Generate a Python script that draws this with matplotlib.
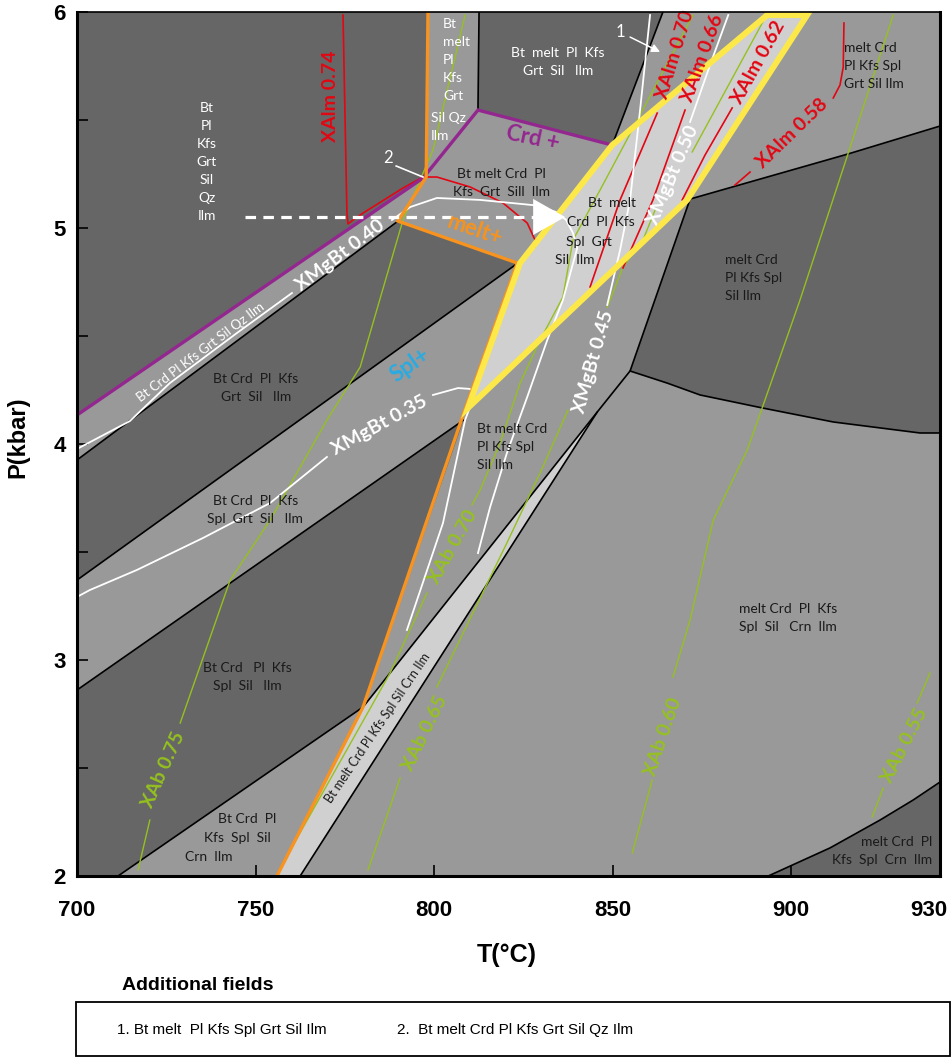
import numpy as np
import matplotlib.pyplot as plt
from matplotlib.patches import Polygon, Rectangle

# colours
DARK = '#666666'
MID = '#999999'
LIGHT = '#d0d0d0'
PURPLE = '#93278f'
ORANGE = '#f7931e'
YELLOW = '#fde84a'
RED = '#e30613'
GREEN = '#95c11f'
BLUE = '#29abe2'
TXT = '#1a1a1a'

LBLFONT = ['Lato', 'DejaVu Sans']
AXFONT = ['Liberation Sans', 'DejaVu Sans']

T_MIN, T_MAX = 700, 941.7
P_MIN, P_MAX = 2, 6
nan = np.nan

# ---- dark fields (T degC, P kbar)
f_top_T = [700, 798.3, 797.8, 796.9, 700]
f_top_P = [6.0, 6.0, 5.236, 5.231, 4.134]
f_btmelt_T = [812.6, 864.1, 849.9, 812.3]
f_btmelt_P = [6.0, 6.0, 5.384, 5.546]
f_grt_T = [700, 789.9, 823.5, 700]
f_grt_P = [3.926, 5.032, 4.838, 3.370]
f_spl_T = [700, 808.3, 780.1, 711.5, 700]
f_spl_P = [2.861, 4.111, 2.782, 2.0, 2.0]
f_meltspl_T = [871.7, 916.0, 941.7, 941.7, 936.1, 911.8, 891.9, 874.5, 865.3, 854.9]
f_meltspl_P = [5.134, 5.343, 5.472, 4.051, 4.051, 4.102, 4.167, 4.227, 4.282, 4.338]
f_crn_T = [893.6, 910.9, 924.9, 934.2, 941.7, 941.7]
f_crn_P = [2.0, 2.130, 2.259, 2.352, 2.435, 2.0]

# ---- light fields
f_peak_T = [893.3, 904.5, 870.9, 809.5, 824.1, 849.9]
f_peak_P = [5.986, 5.986, 5.130, 4.167, 4.838, 5.384]
f_crnband_T = [756.0, 780.1, 845.7, 762.5]
f_crnband_P = [2.0, 2.782, 4.148, 2.0]

# ---- black field boundaries
b1_T, b1_P = [812.6, 812.3], [6.0, 5.546]
b2_T, b2_P = [864.1, 849.9], [6.0, 5.384]
l1_T, l1_P = [700, 789.9], [3.926, 5.032]
l2_T, l2_P = [700, 823.5], [3.370, 4.838]
l3_T, l3_P = [700, 808.3], [2.861, 4.111]
l4_T, l4_P = [711.5, 780.1], [2.0, 2.782]
band_l_T, band_l_P = [756.0, 780.1, 845.7], [2.0, 2.782, 4.148]
band_r_T, band_r_P = [762.5, 845.7, 854.9], [2.0, 4.148, 4.338]

# ---- coloured reaction lines
purple_T = [700, 796.9, 812.3, 849.9]
purple_P = [4.134, 5.231, 5.546, 5.384]
orange_T = [798.3, 797.8, 789.9, 823.3, 808.6, 780.1, 756.0]
orange_P = [6.0, 5.236, 5.032, 4.838, 4.157, 2.782, 2.0]

# ---- XMgBt isopleths (white)
w40_T = [700, 714.8, 726.0, 744.8, 760.2, nan, 788.2, 793.3, 800.8, 812.9, 827.7, 834.2, 837.0,
         838.9, 840.1, 836.1, 831.7, 826.1, 820.4, 815.7, 812.3]
w40_P = [3.977, 4.106, 4.282, 4.514, 4.699, nan, 5.037, 5.097, 5.139, 5.130, 5.106, 5.074, 5.037,
         4.977, 4.907, 4.667, 4.481, 4.218, 3.958, 3.708, 3.495]
w35_T = [700, 703.6, 716.8, 735.3, 754.1, 770.0, nan, 799.7, 806.7, 810.1, 811.2, 808.7, 802.5, 792.4]
w35_P = [3.292, 3.324, 3.417, 3.565, 3.727, 3.940, nan, 4.227, 4.259, 4.255, 4.222, 4.111, 3.634, 3.139]
w45_T = [860.5, 857.7, 854.9, 852.1, 848.5]
w45_P = [5.986, 5.546, 5.130, 4.898, 4.644]
w50_T = [882.4, 877.3, 871.7]
w50_P = [5.986, 5.755, 5.491]

# ---- XAlm isopleths (red)
r74_T = [774.5, 775.6, 775.9, 777.3, 780.1, 791.3, 796.9, 800.8, 810.1, 819.3, 826.1, 828.3, 828.3]
r74_P = [5.986, 5.069, 5.019, 5.037, 5.069, 5.185, 5.236, 5.236, 5.190, 5.116, 5.023, 4.944, 4.912]
r70_T = [862.5, 852.1, 843.7]
r70_P = [5.532, 5.130, 4.727]
r66_T = [870.3, 861.3, 852.9]
r66_P = [5.546, 5.130, 4.815]
r62_T = [883.5, 875.9, 869.5]
r62_P = [5.556, 5.338, 5.130]
r58_T = [914.8, 914.6, 913.7, 911.8, nan, 888.5, 884.3]
r58_P = [5.949, 5.745, 5.662, 5.602, nan, 5.259, 5.199]

# ---- XAb isopleths (green)
g75_T = [808.7, 799.7, 791.3, 779.3, 770.0, 754.1, 742.9, 728.9, nan, 720.4, 717.1]
g75_P = [5.986, 5.361, 5.037, 4.356, 4.111, 3.648, 3.370, 2.708, nan, 2.259, 2.028]
g70_T = [872.5, 857.7, 846.5, 838.9, 836.1, 829.7, 824.1, 818.5, 812.9, 810.6, nan, 798.0, 787.7, 757.7]
g70_P = [5.986, 5.523, 5.176, 4.944, 4.681, 4.481, 4.282, 4.005, 3.787, 3.718, nan, 3.310, 2.940, 2.060]
g65_T = [893.6, 872.3, nan, 861.9, 858.5, 852.9, 848.5, nan, 837.5, 829.7, 820.4, 800.8, nan, 790.5, 781.5]
g65_P = [6.0, 5.352, nan, 5.083, 4.944, 4.819, 4.634, nan, 4.157, 3.866, 3.542, 2.875, nan, 2.454, 2.028]
g60_T = [928.6, 916.0, 902.5, 891.9, 887.7, 878.2, 871.7, 866.9, nan, 861.1, 855.5]
g60_P = [5.986, 5.347, 4.667, 4.167, 3.972, 3.648, 3.185, 2.921, nan, 2.444, 2.106]
g55_T = [938.9, 935.3, nan, 925.8, 922.7]
g55_P = [2.940, 2.801, nan, 2.407, 2.273]

# ---- P-T path (dashed arrow)
path_T = [747.1, 828.3]
path_P = [5.051, 5.051]
path_tip_T = 836.7

# ---- field labels: text, T, P, alignment, colour
field_labels = [
    ('Bt\nPl\nKfs\nGrt\nSil\nQz\nIlm', 736.4, 5.306, 'center', 'white'),
    ('Bt\nmelt\nPl\nKfs\nGrt', 802.5, 5.780, 'left', 'white'),
    ('Sil Qz\nIlm', 799.2, 5.468, 'left', 'white'),
    ('Bt  melt  Pl  Kfs\nGrt  Sil   Ilm', 834.7, 5.769, 'center', 'white'),
    ('Bt melt Crd  Pl\nKfs  Grt  Sill  Ilm', 818.8, 5.208, 'center', TXT),
    ('Bt  melt', 849.9, 5.116, 'center', TXT),
    ('Crd  Pl  Kfs', 846.8, 5.028, 'center', TXT),
    ('Spl  Grt', 843.4, 4.935, 'center', TXT),
    ('Sil  Ilm', 839.5, 4.852, 'center', TXT),
    ('melt Crd\nPl Kfs Spl\nGrt Sil Ilm', 914.8, 5.75, 'left', TXT),
    ('melt Crd\nPl Kfs Spl\nSil Ilm', 881.5, 4.769, 'left', TXT),
    ('Bt Crd  Pl  Kfs\nGrt  Sil   Ilm', 750.1, 4.259, 'center', TXT),
    ('Bt Crd  Pl  Kfs\nSpl  Grt  Sil   Ilm', 749.9, 3.694, 'center', TXT),
    ('Bt Crd   Pl  Kfs\nSpl  Sil   Ilm', 747.6, 2.921, 'center', TXT),
    ('Bt Crd  Pl', 747.6, 2.264, 'center', TXT),
    ('Kfs  Spl  Sil', 744.8, 2.176, 'center', TXT),
    ('Crn  Ilm', 737.0, 2.088, 'center', TXT),
    ('Bt melt Crd\nPl Kfs Spl\nSil Ilm', 812.0, 3.986, 'left', TXT),
    ('melt Crd  Pl  Kfs\nSpl  Sil   Crn  Ilm', 899.2, 3.194, 'center', TXT),
    ('melt Crd  Pl\nKfs  Spl  Crn  Ilm', 939.5, 2.116, 'right', TXT),
]

# rotated labels: text, T, P, angle, colour, size, weight
rot_labels = [
    ('Bt Crd Pl Kfs Grt Sil Qz Ilm', 734.5, 4.426, 37, 'white', 9.5, 'normal'),
    ('Bt melt Crd Pl Kfs Spl Sil Crn Ilm', 784.3, 2.685, 56, TXT, 9, 'normal'),
    ('XMgBt 0.40', 773.7, 4.875, 37, 'white', 14, 'bold'),
    ('XMgBt 0.35', 784.6, 4.088, 28.5, 'white', 14, 'bold'),
    ('XMgBt 0.45', 844.5, 4.380, 74, 'white', 14, 'bold'),
    ('XMgBt 0.50', 866.9, 5.245, 67, 'white', 14, 'bold'),
    ('XAlm 0.74', 770.9, 5.611, 90, RED, 14, 'bold'),
    ('XAlm 0.70', 867.5, 5.801, 73, RED, 14, 'bold'),
    ('XAlm 0.66', 875.1, 5.787, 70, RED, 14, 'bold'),
    ('XAlm 0.62', 890.8, 5.769, 61, RED, 14, 'bold'),
    ('XAlm 0.58', 900.3, 5.440, 44, RED, 14, 'bold'),
    ('XAb 0.75', 724.1, 2.491, 66, GREEN, 14, 'bold'),
    ('XAb 0.70', 805.3, 3.523, 61, GREEN, 14, 'bold'),
    ('XAb 0.65', 797.5, 2.662, 64, GREEN, 14, 'bold'),
    ('XAb 0.60', 864.1, 2.644, 71, GREEN, 14, 'bold'),
    ('XAb 0.55', 931.9, 2.606, 63, GREEN, 14, 'bold'),
    ('Crd +', 827.7, 5.417, -12, PURPLE, 16, 'bold'),
    ('melt+', 811.5, 4.991, -19, ORANGE, 16, 'bold'),
    ('Spl+', 793.3, 4.366, 35, BLUE, 16, 'bold'),
]

x_ticks = [700, 750, 800, 850, 900]
x_labels = ['700', '750', '800', '850', '900']
x_end_label = '930'
y_ticks = [2, 3, 4, 5, 6]
y_minor = [2.5, 3.5, 4.5, 5.5]

fig = plt.figure(figsize=(9.53, 10.57), dpi=100)
ax = fig.add_axes([77/953, 1-876/1057, 863/953, 864/1057])
ax.set_xlim(T_MIN, T_MAX)
ax.set_ylim(P_MIN, P_MAX)
ax.set_facecolor(MID)

for ft, fp, col in [(f_top_T, f_top_P, DARK), (f_btmelt_T, f_btmelt_P, DARK),
                    (f_grt_T, f_grt_P, DARK), (f_spl_T, f_spl_P, DARK),
                    (f_meltspl_T, f_meltspl_P, DARK), (f_crn_T, f_crn_P, DARK),
                    (f_peak_T, f_peak_P, LIGHT), (f_crnband_T, f_crnband_P, LIGHT)]:
    ax.add_patch(Polygon(np.column_stack([ft, fp]), closed=True, fc=col, ec='none', zorder=1))

for bt, bp in [(b1_T, b1_P), (b2_T, b2_P), (l1_T, l1_P), (l2_T, l2_P), (l3_T, l3_P),
               (l4_T, l4_P), (band_l_T, band_l_P), (band_r_T, band_r_P),
               (f_meltspl_T[:3], f_meltspl_P[:3]),
               (f_meltspl_T[3:] + [f_meltspl_T[0]], f_meltspl_P[3:] + [f_meltspl_P[0]]),
               (f_crn_T[:5], f_crn_P[:5])]:
    ax.plot(bt, bp, color='black', lw=1.2, zorder=2, solid_capstyle='round')

for gt, gp in [(g75_T, g75_P), (g70_T, g70_P), (g65_T, g65_P), (g60_T, g60_P), (g55_T, g55_P)]:
    ax.plot(gt, gp, color=GREEN, lw=1.0, zorder=3)
for rt, rp in [(r74_T, r74_P), (r70_T, r70_P), (r66_T, r66_P), (r62_T, r62_P), (r58_T, r58_P)]:
    ax.plot(rt, rp, color=RED, lw=1.2, zorder=3)
for wt, wp in [(w40_T, w40_P), (w35_T, w35_P), (w45_T, w45_P), (w50_T, w50_P)]:
    ax.plot(wt, wp, color='white', lw=1.3, zorder=3)

ax.plot(purple_T, purple_P, color=PURPLE, lw=2.4, zorder=4, solid_joinstyle='miter')
ax.plot(orange_T, orange_P, color=ORANGE, lw=2.4, zorder=4, solid_joinstyle='miter')
ax.add_patch(Polygon(np.column_stack([f_peak_T, f_peak_P]), closed=True, fc='none',
                     ec=YELLOW, lw=4.3, joinstyle='miter', zorder=5))

# P-T path
ax.plot(path_T, path_P, color='white', lw=2.3, ls=(0, (3.3, 2.3)), zorder=6)
ax.annotate('', xy=(path_tip_T, path_P[-1]), xytext=(path_T[-1], path_P[-1]),
            arrowprops=dict(arrowstyle='-|>,head_length=1.15,head_width=0.65', color='white',
                            lw=0, mutation_scale=20, shrinkA=0, shrinkB=0), zorder=6)

# additional field pointers
ax.text(852.1, 5.907, '1', color='white', fontsize=12, family=LBLFONT, ha='center', va='center', zorder=7)
ax.annotate('', xy=(863.3, 5.815), xytext=(854.9, 5.884),
            arrowprops=dict(arrowstyle='-|>,head_length=0.4,head_width=0.2', color='white',
                            lw=1.1, mutation_scale=12, shrinkA=0, shrinkB=0), zorder=7)
ax.text(787.1, 5.324, '2', color='white', fontsize=12, family=LBLFONT, ha='center', va='center', zorder=7)
ax.plot([789.4, 796.9], [5.287, 5.236], color='white', lw=1.2, zorder=7)

for txt, t, p, al, col in field_labels:
    ax.text(t, p, txt, color=col, fontsize=10, family=LBLFONT, ha=al, va='center',
            multialignment=al, linespacing=1.6, zorder=8)
for txt, t, p, ang, col, fs, fw in rot_labels:
    ax.text(t, p, txt, color=col, fontsize=fs, fontweight=fw, family=LBLFONT, rotation=ang,
            rotation_mode='anchor', ha='center', va='center', zorder=8)

# axes styling
ax.set_xticks(x_ticks, x_labels)
ax.set_yticks(y_ticks, [str(v) for v in y_ticks])
ax.set_yticks(y_minor, minor=True)
ax.tick_params(axis='both', which='both', direction='in', length=8, width=1.2, colors='black')
ax.tick_params(axis='x', pad=17)
ax.tick_params(axis='y', pad=8)
for lab in ax.get_xticklabels() + ax.get_yticklabels():
    lab.set_fontfamily(AXFONT)
    lab.set_fontweight('bold')
    lab.set_fontsize(16)
# right end of the T axis is labelled 930 in the original diagram
ax.annotate(x_end_label, xy=(1, 0), xycoords='axes fraction', xytext=(-8, -25),
            textcoords='offset points', ha='center', va='center', fontsize=16,
            fontweight='bold', family=AXFONT)
for side in ['left', 'bottom', 'right']:
    ax.spines[side].set_linewidth(2.2)
ax.spines['top'].set_linewidth(1.2)
for sp in ax.spines.values():
    sp.set_zorder(10)

fig.text(18/953, 1-437/1057, 'P(kbar)', rotation=90, ha='center', va='center',
         fontsize=17, fontweight='bold', family=AXFONT)
fig.text(507/953, 1-955/1057, 'T(°C)', ha='center', va='center',
         fontsize=18, fontweight='bold', family=AXFONT)
fig.text(122/953, 1-985/1057, 'Additional fields', ha='left', va='center',
         fontsize=14, fontweight='bold', family=AXFONT)
fig.patches.append(Rectangle((76/953, 1-1056/1057), 874/953, 54/1057, transform=fig.transFigure,
                             fc='white', ec='black', lw=1.3))
fig.text(117/953, 1-1030/1057, '1. Bt melt  Pl Kfs Spl Grt Sil Ilm', ha='left', va='center',
         fontsize=11, family=AXFONT)
fig.text(397/953, 1-1030/1057, '2.  Bt melt Crd Pl Kfs Grt Sil Qz Ilm', ha='left', va='center',
         fontsize=11, family=AXFONT)

fig.savefig('out.png', dpi=100)
